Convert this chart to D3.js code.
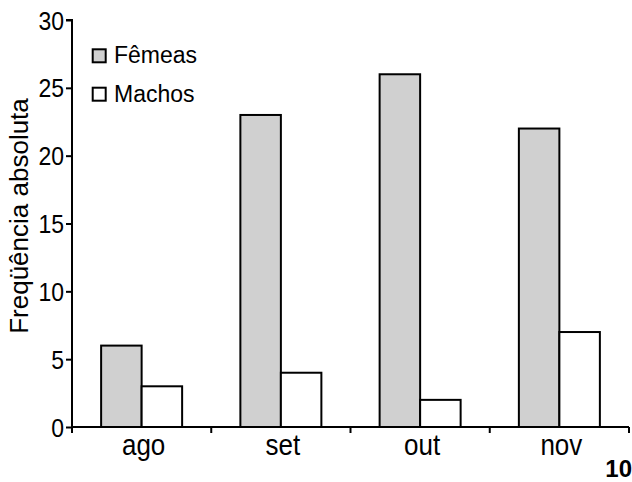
<!DOCTYPE html>
<html><head><meta charset="utf-8">
<script src="https://cdn.jsdelivr.net/npm/d3@7"></script>
<style>body{margin:0;background:#fff}svg{display:block}text{font-family:"Liberation Sans",Arial,sans-serif;fill:#000}</style>
</head><body><svg id="c" width="632" height="482"></svg>
<script>
const categories = ["ago","set","out","nov"];
const femeas = [6,23,26,22];
const machos = [3,4,2,7];
const seriesNames = ["Fêmeas","Machos"];
const yTicks = [0,5,10,15,20,25,30];

const svg = d3.select("#c");
const x0 = 72, x1 = 629, yB = 427, yT = 20;
const x = d3.scaleBand().domain(categories).range([x0,x1]).paddingInner(0).paddingOuter(0);
const y = d3.scaleLinear().domain([0,30]).range([yB,yT]);
const inner = d3.scaleBand().domain(seriesNames).range([0,81]);
const fills = {"Fêmeas":"#d0d0d0","Machos":"#ffffff"};
const data = categories.map((c,i)=>({c, v:[femeas[i],machos[i]]}));

function txt(px, py, s, size, sy, anchor, weight){
  return svg.append("text").attr("transform",`translate(${px},${py}) scale(1,${sy})`)
    .attr("text-anchor",anchor||"start").attr("font-size",size)
    .attr("font-weight",weight||"normal").text(s);
}

const g = svg.append("g");
data.forEach(d=>{
  const off = x(d.c) + (x.bandwidth()-81)/2;
  seriesNames.forEach((s,j)=>{
    g.append("rect").attr("x", off+inner(s)).attr("y", y(d.v[j]))
      .attr("width", inner.bandwidth()).attr("height", yB - y(d.v[j]))
      .attr("fill", fills[s]).attr("stroke","#000").attr("stroke-width",2);
  });
});

// y axis
const ya = svg.append("g").attr("transform",`translate(${x0},0)`)
  .call(d3.axisLeft(y).tickValues(yTicks).tickSize(6).tickFormat(""));
ya.select(".domain").attr("stroke-width",2).attr("d",`M-6,${yT}H0V${yB}`);
ya.selectAll(".tick line").attr("stroke-width",2);
yTicks.forEach(t=>txt(x0-8, y(t)+9.5, String(t), 23, 1.15, "end"));

// x axis
const xa = svg.append("g").attr("transform",`translate(0,${yB})`);
xa.append("line").attr("x1",x0).attr("x2",x1).attr("stroke","#000").attr("stroke-width",2);
const bounds = categories.map(c=>x(c)).concat([x1]);
bounds.forEach(b=>xa.append("line").attr("x1",b).attr("x2",b).attr("y1",0).attr("y2",6).attr("stroke","#000").attr("stroke-width",2));
categories.forEach(c=>txt(x(c)+x.bandwidth()/2+2, yB+28, c, 26, 1.15, "middle"));

// y label
svg.append("text").attr("transform",`translate(28,216) rotate(-90)`)
  .attr("text-anchor","middle").attr("font-size",26).text("Freqüência absoluta");

// legend
seriesNames.forEach((s,i)=>{
  const ly = 49.3 + i*38.4;
  svg.append("rect").attr("x",92.7).attr("y",ly).attr("width",13).attr("height",13)
    .attr("fill",fills[s]).attr("stroke","#000").attr("stroke-width",2);
  txt(114, ly+14, s, 23, 1.05, "start");
});

txt(632, 477, "10", 24, 1, "end", "bold");
</script></body></html>
